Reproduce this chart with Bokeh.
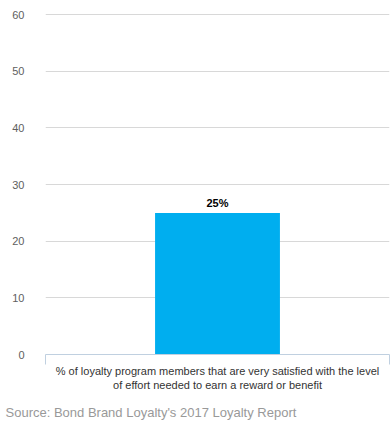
from bokeh.plotting import figure
from bokeh.models import Range1d, FixedTicker, ColumnDataSource, LinearAxis, Title
from bokeh.core.properties import value
from bokeh.embed import file_html
from bokeh.resources import INLINE

categories = ["% of loyalty program members that are very satisfied with the level\nof effort needed to earn a reward or benefit"]
values = [25]
y_ticks = [0, 10, 20, 30, 40, 50, 60]
source_text = "Source: Bond Brand Loyalty's 2017 Loyalty Report"

FONT = "Liberation Sans"
xs = list(range(len(categories)))

p = figure(width=390, height=428, output_backend="svg", toolbar_location=None,
           x_range=Range1d(-0.5, len(categories) - 0.5), y_range=Range1d(0, 60.2),
           min_border_left=45, min_border_right=1, min_border_top=13, min_border_bottom=73,
           x_axis_type=None)
p.outline_line_color = None
p.background_fill_color = "white"
p.border_fill_color = "white"

src = ColumnDataSource(dict(x=xs, top=values, lab=[f"{v}%" for v in values]))
p.vbar(x="x", top="top", width=0.363, bottom=0, source=src, color="#00aeef", line_color=None)
p.text(x="x", y="top", text="lab", source=src, text_font=value(FONT), text_font_size="11px",
       text_font_style="bold", text_color="#000000", text_align="center",
       text_baseline="bottom", y_offset=-4)

xaxis = LinearAxis(ticker=FixedTicker(ticks=xs, minor_ticks=[i - 0.5 for i in xs] + [len(xs) - 0.5]),
                   major_label_overrides={i: c for i, c in zip(xs, categories)})
xaxis.axis_line_color = "#c0d0e0"
xaxis.major_tick_out = 0
xaxis.major_tick_in = 0
xaxis.minor_tick_out = 10
xaxis.minor_tick_in = 0
xaxis.minor_tick_line_color = "#c0d0e0"
xaxis.major_label_text_font = FONT
xaxis.major_label_text_font_size = "11px"
xaxis.major_label_text_color = "#333333"
xaxis.major_label_standoff = 0
p.add_layout(xaxis, "below")

p.yaxis.ticker = FixedTicker(ticks=y_ticks)
p.yaxis.axis_line_color = None
p.yaxis.major_tick_line_color = None
p.yaxis.minor_tick_line_color = None
p.yaxis.major_label_text_font = FONT
p.yaxis.major_label_text_font_size = "11px"
p.yaxis.major_label_text_color = "#606060"
p.yaxis.major_label_standoff = 15

p.xgrid.grid_line_color = None
p.ygrid.grid_line_color = "#d8d8d8"
p.ygrid.ticker = FixedTicker(ticks=y_ticks)

p.add_layout(Title(text=source_text, align="left", offset=-40, standoff=18,
                   text_font=FONT, text_font_size="13px", text_color="#999999",
                   text_font_style="normal"), "below")

open("out.html", "w").write(file_html(p, INLINE))
